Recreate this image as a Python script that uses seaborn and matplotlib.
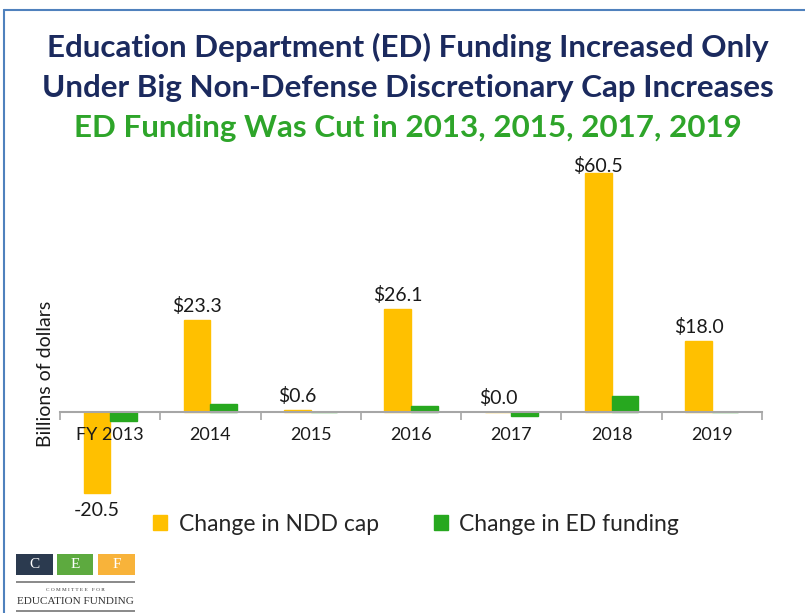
import matplotlib
matplotlib.use("Agg")
import matplotlib.pyplot as plt
import seaborn as sns
import pandas as pd
from matplotlib.patches import Patch, Rectangle
from matplotlib.lines import Line2D

# ---- data ----
years = ["FY 2013", "2014", "2015", "2016", "2017", "2018", "2019"]
ndd_cap = [-20.5, 23.3, 0.6, 26.1, 0.0, 60.5, 18.0]
ed_funding = [-2.3, 2.0, -0.1, 1.5, -1.0, 4.0, -0.1]
series_names = ["Change in NDD cap", "Change in ED funding"]
title_lines = ["Education Department (ED) Funding Increased Only",
               "Under Big Non-Defense Discretionary Cap Increases"]
subtitle = "ED Funding Was Cut in 2013, 2015, 2017, 2019"
ylabel = "Billions of dollars"

YELLOW = "#FFC000"
GREEN = "#27A81F"
NAVY = "#1B2A5E"
TGREEN = "#2EA52A"

df = pd.DataFrame({
    "year": years * 2,
    "value": ndd_cap + ed_funding,
    "series": [series_names[0]] * len(years) + [series_names[1]] * len(years),
})

sns.set_style("white")
plt.rcParams["font.family"] = ["Lato", "DejaVu Sans"]

fig = plt.figure(figsize=(8.05, 6.13), dpi=100)
ax = fig.add_axes([0.0745, 0.1668, 0.872, 0.5768])

sns.barplot(data=df, x="year", y="value", hue="series",
            palette=[YELLOW, GREEN], saturation=1, width=0.53, ax=ax,
            legend=False, linewidth=1.0, errorbar=None)
for p in ax.patches:
    p.set_edgecolor(p.get_facecolor())
ax.set_xlim(-0.5, len(years) - 0.5)
ytop = 64.5
ax.set_ylim(-25, ytop)
ax.set_axisbelow(False)

# axes styling
for s in ["top", "right", "left"]:
    ax.spines[s].set_visible(False)
ax.spines["bottom"].set_position(("data", 0))
ax.spines["bottom"].set_color("#A6A6A6")
ax.spines["bottom"].set_linewidth(1.5)
ax.set_yticks([])
ax.set_xlabel("")
ax.set_ylabel("")
ax.set_xticks([i - 0.5 for i in range(len(years) + 1)])
ax.set_xticklabels([])
ax.tick_params(axis="x", which="major", direction="out", length=6,
               width=1.2, color="#A6A6A6", bottom=True)
ax.set_xticks(range(len(years)), minor=True)
ax.set_xticklabels(years, minor=True)
ax.tick_params(axis="x", which="minor", length=0, pad=11,
               labelsize=13, labelcolor="#1a1a1a")

# value labels for NDD cap bars
bar_w = 0.53 / 2
for i, v in enumerate(ndd_cap):
    x = i - bar_w / 2
    if v >= 0:
        y = min(v + 1.2, ytop - 4.4)
        ax.text(x, y, f"${v:.1f}", ha="center", va="bottom",
                fontsize=14, color="#1a1a1a")
    else:
        ax.text(x, v - 2.3, f"{v:.1f}", ha="center", va="top",
                fontsize=14, color="#1a1a1a")

# titles
fig.text(0.507, 0.923, title_lines[0], ha="center", va="center",
         fontsize=22.6, fontweight="bold", color=NAVY)
fig.text(0.507, 0.857, title_lines[1], ha="center", va="center",
         fontsize=22.6, fontweight="bold", color=NAVY)
fig.text(0.507, 0.791, subtitle, ha="center", va="center",
         fontsize=22.6, fontweight="bold", color=TGREEN)

# y label
fig.text(0.057, 0.39, ylabel, rotation=90, ha="center", va="center",
         fontsize=14, color="#1a1a1a")

# legend
handles = [Patch(facecolor=YELLOW, edgecolor=YELLOW),
           Patch(facecolor=GREEN, edgecolor=GREEN)]
fig.legend(handles, series_names, loc="center", bbox_to_anchor=(0.517, 0.145),
           ncol=2, frameon=False, fontsize=16.5, handlelength=0.6,
           handleheight=0.6, handletextpad=0.5, columnspacing=2.4)

# frame
fig.add_artist(Line2D([4 / 805, 1], [1 - 10 / 613, 1 - 10 / 613],
                      transform=fig.transFigure, color="#4F81BD", lw=1.5))
fig.add_artist(Line2D([4 / 805, 4 / 805], [0, 1 - 10 / 613],
                      transform=fig.transFigure, color="#4F81BD", lw=1.5))

# logo
W, H = 805, 613
def frect(x0, y0, x1, y1, c):
    fig.add_artist(Rectangle((x0 / W, 1 - y1 / H), (x1 - x0) / W, (y1 - y0) / H,
                             transform=fig.transFigure, facecolor=c,
                             edgecolor="none"))
logo = [("C", 16, 53, "#2B3A4F"), ("E", 57, 93, "#5DAA3F"), ("F", 98, 135, "#F8B33A")]
for letter, x0, x1, c in logo:
    frect(x0, 554, x1, 575, c)
    fig.text((x0 + x1) / 2 / W, 1 - 565 / H, letter, ha="center", va="center",
             color="white", fontsize=11, family="Liberation Serif")
frect(16, 581, 135, 583, "#8C8C8C")
fig.text(75 / W, 1 - 590 / H, "C O M M I T T E E   F O R", ha="center",
         va="center", fontsize=3.8, family="Liberation Serif", color="#333333")
fig.text(75 / W, 1 - 602 / H, "EDUCATION FUNDING", ha="center", va="center",
         fontsize=8, family="Liberation Serif", color="#333333")
frect(16, 610, 135, 612, "#8C8C8C")

fig.savefig("out.png", dpi=100)
